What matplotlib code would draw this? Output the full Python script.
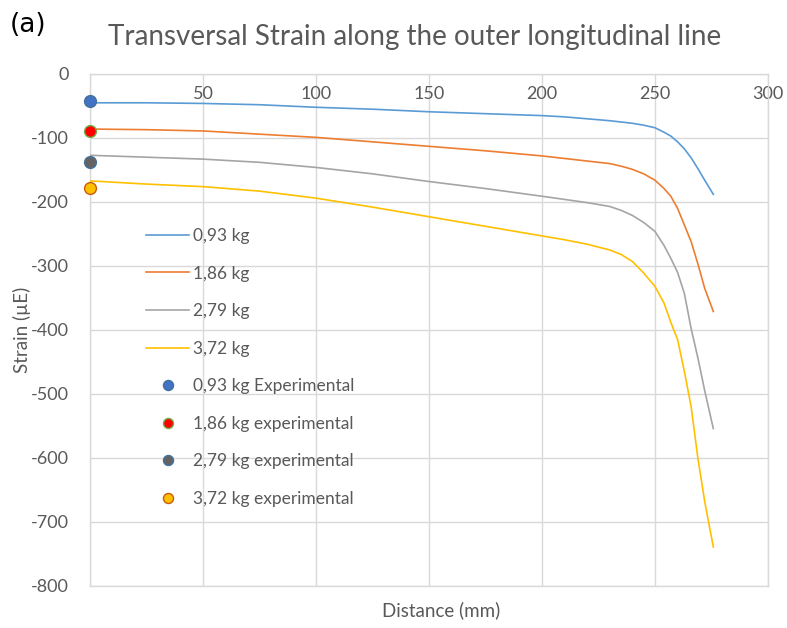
import numpy as np
import matplotlib
matplotlib.use("Agg")
import matplotlib.pyplot as plt

# data
dist = [0, 25, 50, 75, 100, 125, 150, 175, 200, 210, 220, 230, 235, 240, 245, 250,
        254, 257, 260, 263, 266, 269, 272, 275.8]

strain_093 = [-45, -45, -46, -48, -52, -55, -59, -62, -65, -67, -70, -73, -75, -77, -80, -84,
              -91, -97, -106, -117, -131, -148, -166, -188]
strain_186 = [-86, -87, -89, -94, -99, -106, -113, -120, -128, -132, -136, -140, -144, -149, -156, -166,
              -179, -191, -210, -236, -262, -297, -335, -371]
strain_279 = [-127, -130, -133, -138, -146, -156, -168, -179, -191, -196, -201, -207, -213, -221, -232, -246,
              -268, -288, -310, -343, -398, -444, -495, -554]
strain_372 = [-167, -172, -176, -183, -194, -208, -223, -238, -253, -259, -266, -275, -282, -293, -311, -332,
              -358, -388, -415, -465, -520, -601, -668, -739]

exp_dist = [0]
exp_093 = [-42]
exp_186 = [-89]
exp_279 = [-138]
exp_372 = [-178]

labels = ["0,93 kg", "1,86 kg", "2,79 kg", "3,72 kg"]
exp_labels = ["0,93 kg Experimental", "1,86 kg experimental",
              "2,79 kg experimental", "3,72 kg experimental"]

LINE_COLS = ["#5B9BD5", "#ED7D31", "#A5A5A5", "#FFC000"]
EXP_FACE = ["#4472C4", "#FF0000", "#636363", "#FFC000"]
EXP_EDGE = ["#41719C", "#70AD47", "#41719C", "#C55A11"]
TXT = "#595959"
GRID = "#D9D9D9"

plt.rcParams["font.family"] = ["Lato", "DejaVu Sans"]
plt.rcParams["axes.unicode_minus"] = False

fig = plt.figure(figsize=(7.87, 6.28), dpi=100)
ax = fig.add_axes([90 / 787, 1 - 586 / 628, 678 / 787, 512 / 628])

handles = []
for ys, lab, c in zip([strain_093, strain_186, strain_279, strain_372], labels, LINE_COLS):
    h, = ax.plot(dist, ys, color=c, lw=1.2, label=lab, zorder=3)
    handles.append(h)

for ys, lab, fc, ec in zip([exp_093, exp_186, exp_279, exp_372], exp_labels, EXP_FACE, EXP_EDGE):
    h, = ax.plot(exp_dist, ys, ls="none", marker="o", ms=8.5, mfc=fc, mec=ec,
                 mew=1.0, label=lab, zorder=5, clip_on=False)
    handles.append(h)

ax.set_xlim(0, 300)
ax.set_ylim(-800, 0)
ax.set_xticks(np.arange(0, 301, 50))
ax.set_xticklabels([""] + [str(v) for v in range(50, 301, 50)])
ax.set_yticks(np.arange(-800, 1, 100))
ax.grid(True, color=GRID, lw=1.0, zorder=0)
ax.set_axisbelow(True)
for sp in ax.spines.values():
    sp.set_color(GRID)
    sp.set_linewidth(1.0)

ax.tick_params(axis="x", top=False, bottom=False, labeltop=True, labelbottom=False,
               pad=-24, labelsize=13, labelcolor=TXT)
ax.tick_params(axis="y", left=False, right=False, labelsize=13, labelcolor=TXT, pad=12)

fig.text(441 / 787, 1 - 610 / 628, "Distance (mm)", ha="center", va="center",
         color=TXT, fontsize=13.5)
fig.text(22 / 787, 1 - 330 / 628, "Strain (µE)", ha="center", va="center",
         rotation=90, color=TXT, fontsize=13.5)
fig.text(415 / 787, 1 - 37 / 628, "Transversal Strain along the outer longitudinal line",
         ha="center", va="center", color=TXT, fontsize=20)
fig.text(10 / 787, 1 - 25 / 628, "(a)", ha="left", va="center", color="black",
         fontsize=19, family="DejaVu Sans")

leg = ax.legend(handles=handles, loc="upper left", frameon=False,
                bbox_to_anchor=(146 / 787, 1 - 228 / 628), bbox_transform=fig.transFigure,
                borderpad=0, borderaxespad=0, handlelength=2.5, handletextpad=0.2,
                labelspacing=1.24, fontsize=12.5, markerscale=0.85)
for t in leg.get_texts():
    t.set_color(TXT)

fig.savefig("out.png", dpi=100)
